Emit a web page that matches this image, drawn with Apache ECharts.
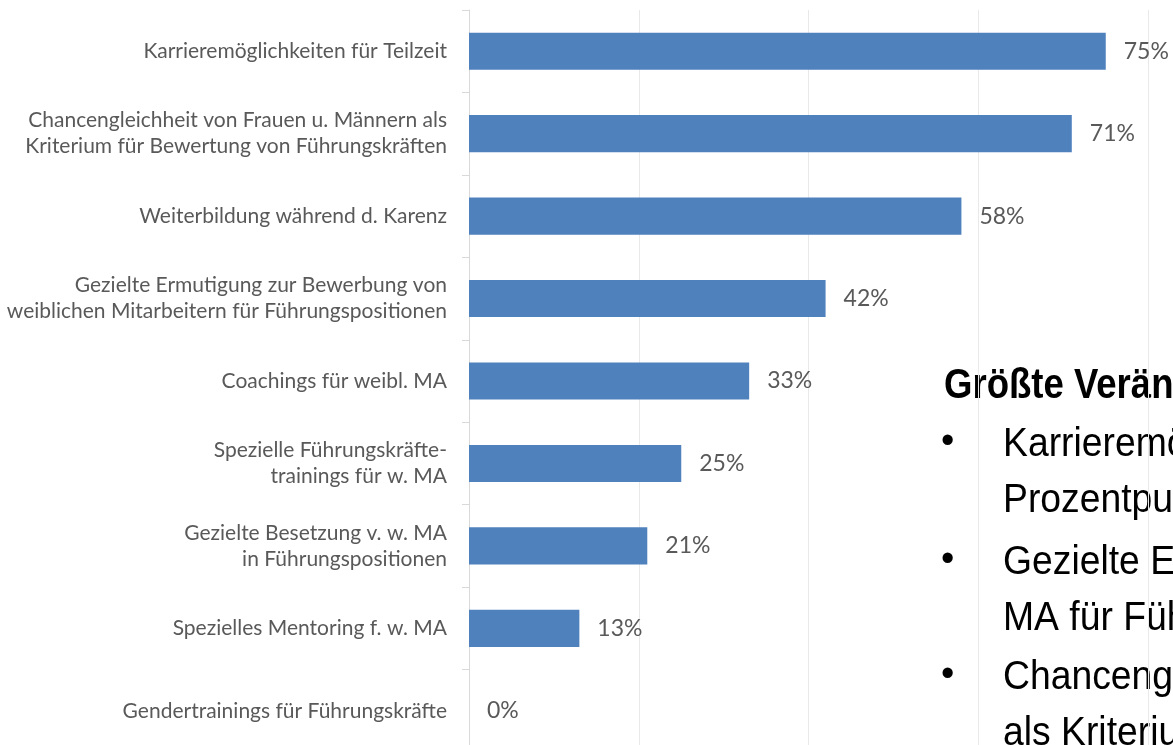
<!DOCTYPE html>
<html>
<head>
<meta charset="utf-8">
<script src="https://cdn.jsdelivr.net/npm/echarts@6/dist/echarts.min.js"></script>
<style>
  html, body { margin: 0; padding: 0; background: #ffffff; }
  #chart { width: 1173px; height: 745px; }
</style>
</head>
<body>
<div id="chart"></div>
<script>
// Maßnahmen (top to bottom)
const categories = [
  'Karrieremöglichkeiten für Teilzeit',
  'Chancengleichheit von Frauen u. Männern als\nKriterium für Bewertung von Führungskräften',
  'Weiterbildung während d. Karenz',
  'Gezielte Ermutigung zur Bewerbung von\nweiblichen Mitarbeitern für Führungspositionen',
  'Coachings für weibl. MA',
  'Spezielle Führungskräfte-\ntrainings für w. MA',
  'Gezielte Besetzung v. w. MA\nin Führungspositionen',
  'Spezielles Mentoring f. w. MA',
  'Gendertrainings für Führungskräfte'
];

// Anteil in Prozent
const values = [75, 71, 58, 42, 33, 25, 21, 13, 0];

// Textbox: Überschrift und Aufzählung
const noteTitle = 'Größte Veränderungen';
const noteBullets = [
  ['Karrieremöglichkeiten für Teilzeit', 'Prozentpunkte'],
  ['Gezielte Ermutigung zur Bewerbung von w.', 'MA für Führungspositionen'],
  ['Chancengleichheit von Frauen u. Männern', 'als Kriterium für Bewertung von Führungskräften']
];

const chart = echarts.init(document.getElementById('chart'));

// narrow sans look: regular sans squeezed horizontally
const noteFont = '"Liberation Sans", Arial, sans-serif';
const noteGraphics = [];
noteGraphics.push({
  type: 'text', x: 944, y: 386, scaleX: 0.87,
  style: { text: noteTitle, fill: '#000', font: 'bold 42px ' + noteFont, verticalAlign: 'middle' }
});
// vertical centre of each bullet's first line, and pitch of its wrapped lines
const bulletTops = [445, 563, 678];
const wrapPitch = 56;
noteBullets.forEach(function (lines, i) {
  noteGraphics.push({
    type: 'text', x: 941, y: bulletTops[i] - 2,
    style: { text: '•', fill: '#000', font: '38px ' + noteFont, verticalAlign: 'middle' }
  });
  lines.forEach(function (t, j) {
    noteGraphics.push({
      type: 'text', x: 1003, y: bulletTops[i] + j * wrapPitch, scaleX: 0.91,
      style: { text: t, fill: '#000', font: '41px ' + noteFont, verticalAlign: 'middle' }
    });
  });
});

chart.setOption({
  animation: false,
  backgroundColor: '#ffffff',
  grid: { left: 469, top: 10, width: 849, height: 742, containLabel: false, outerBoundsMode: 'none' },
  xAxis: {
    type: 'value', min: 0, max: 100, interval: 20,
    axisLabel: { show: false },
    axisLine: { show: false },
    axisTick: { show: false },
    splitLine: { show: true, lineStyle: { color: '#e9e9e9', width: 1 } }
  },
  yAxis: {
    type: 'category', inverse: true, data: categories,
    axisLine: { show: true, lineStyle: { color: '#d9d9d9', width: 1 } },
    axisTick: { show: true, length: 7, lineStyle: { color: '#d9d9d9' } },
    axisLabel: {
      color: '#595959', fontFamily: 'Lato, "Open Sans", sans-serif', fontSize: 21,
      lineHeight: 26, align: 'right', margin: 22
    }
  },
  series: [{
    type: 'bar',
    data: values,
    barWidth: '45%',
    itemStyle: { color: '#4f81bd' },
    label: {
      show: true, position: 'right', distance: 18,
      formatter: '{c}%', color: '#595959',
      fontFamily: 'Lato, "Open Sans", sans-serif', fontSize: 23
    }
  }],
  graphic: noteGraphics
});
</script>
</body>
</html>
